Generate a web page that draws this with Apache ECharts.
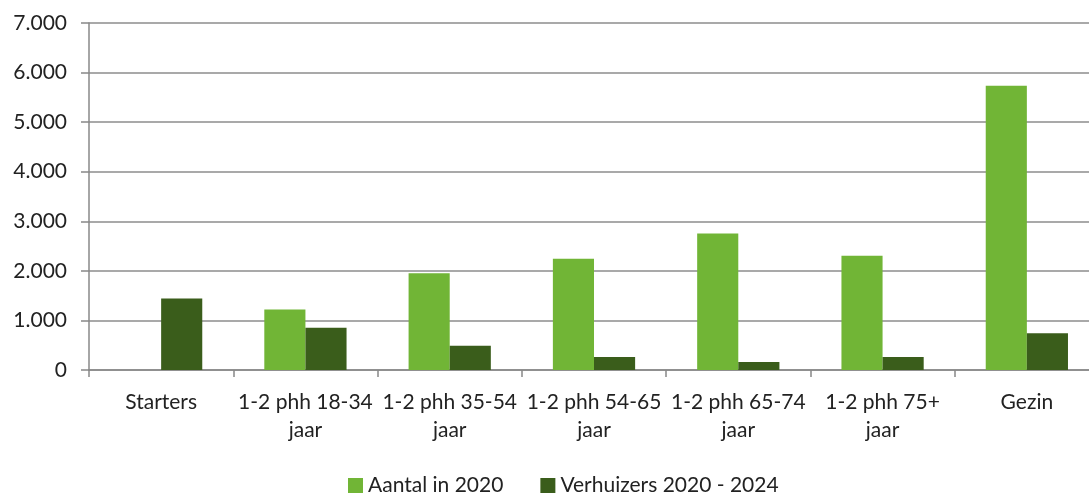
<!DOCTYPE html>
<html>
<head>
<meta charset="utf-8">
<script src="https://cdn.jsdelivr.net/npm/echarts@6/dist/echarts.min.js"></script>
<style>
  html, body { margin: 0; padding: 0; background: #fff; }
  #chart { width: 1089px; height: 493px; }
</style>
</head>
<body>
<div id="chart"></div>
<script>
var categories = ['Starters', '1-2 phh 18-34\njaar', '1-2 phh 35-54\njaar', '1-2 phh 54-65\njaar',
                  '1-2 phh 65-74\njaar', '1-2 phh 75+\njaar', 'Gezin'];
var aantal2020 = [0, 1220, 1950, 2245, 2755, 2305, 5735];
var verhuizers = [1440, 850, 490, 262, 162, 262, 740];
var seriesNames = ['Aantal in 2020', 'Verhuizers 2020 - 2024'];

var fontFam = 'Lato, "Open Sans", sans-serif';

var chart = echarts.init(document.getElementById('chart'));

var option = {
    animation: false,
    textStyle: { fontFamily: fontFam },
    grid: {
        left: 89,
        right: -10,
        top: 23,
        bottom: 123,
        containLabel: false,
        outerBoundsMode: 'none'
    },
    legend: {
        top: 470,
        left: 343,
        itemWidth: 15,
        itemHeight: 15,
        itemGap: 37,
        icon: 'rect',
        textStyle: { fontSize: 21, color: '#222', fontFamily: fontFam },
        data: seriesNames
    },
    xAxis: {
        type: 'category',
        data: categories,
        axisLine: { lineStyle: { color: '#888', width: 1.5 } },
        axisTick: { show: true, length: 7, lineStyle: { color: '#888', width: 1.5 } },
        axisLabel: {
            color: '#222',
            fontSize: 21,
            lineHeight: 28,
            margin: 18,
            interval: 0,
            fontFamily: fontFam
        }
    },
    yAxis: {
        type: 'value',
        min: 0,
        max: 7000,
        interval: 1000,
        axisLine: { show: true, lineStyle: { color: '#888', width: 1.5 } },
        axisTick: { show: true, length: 8, lineStyle: { color: '#888', width: 1.5 } },
        splitLine: { lineStyle: { color: '#8c8c8c', width: 1.5 } },
        axisLabel: {
            color: '#222',
            fontSize: 21,
            margin: 22,
            fontFamily: fontFam,
            formatter: function (v) {
                return v === 0 ? '0' : (v / 1000) + '.000';
            }
        }
    },
    series: [
        {
            name: seriesNames[0],
            type: 'bar',
            data: aantal2020,
            barGap: '0%',
            barCategoryGap: '43%',
            itemStyle: { color: '#71b536' }
        },
        {
            name: seriesNames[1],
            type: 'bar',
            data: verhuizers,
            itemStyle: { color: '#3a5d1b' }
        }
    ]
};

chart.setOption(option);
window.onresize = function () { chart.resize(); };
</script>
</body>
</html>
